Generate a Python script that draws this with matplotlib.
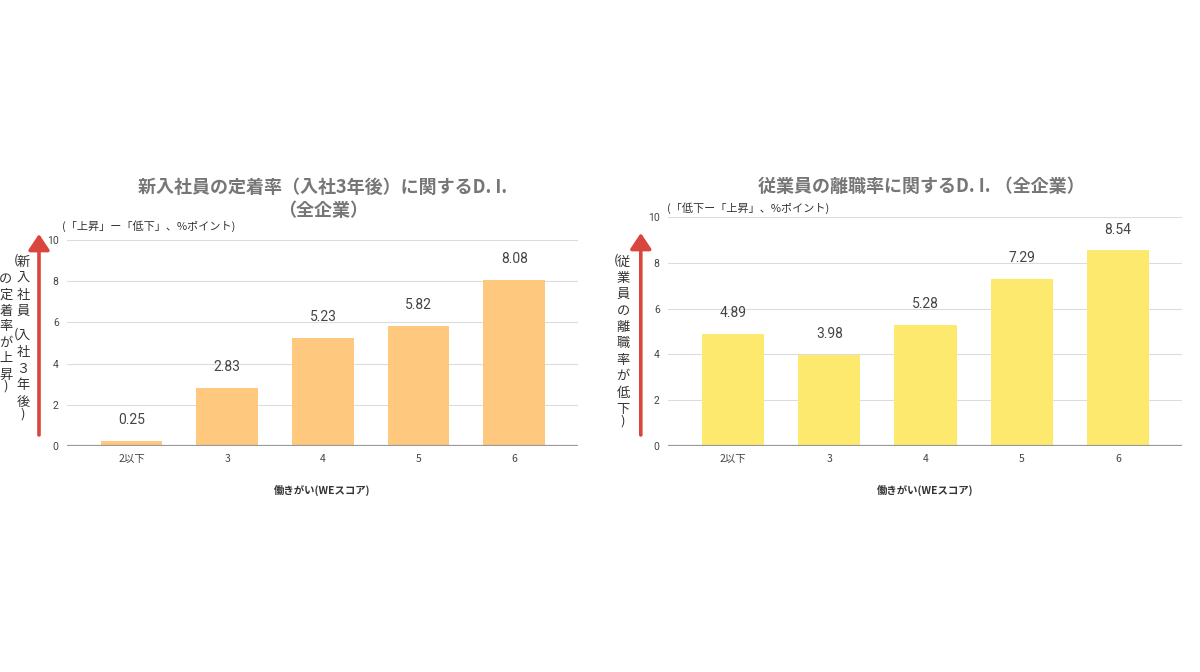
import matplotlib
matplotlib.use("Agg")
import matplotlib.pyplot as plt

plt.rcParams['font.family'] = ['Noto Sans CJK JP', 'DejaVu Sans']

# data
categories = ["2以下", "3", "4", "5", "6"]
teichaku_di = [0.25, 2.83, 5.23, 5.82, 8.08]   # 新入社員の定着率
rishoku_di = [4.89, 3.98, 5.28, 7.29, 8.54]    # 従業員の離職率

left_title = "新入社員の定着率（入社3年後）に関するD. I.\n（全企業）"
right_title = "従業員の離職率に関するD. I. （全企業）"
left_unit = "(「上昇」ー「低下」、%ポイント)"
right_unit = "(「低下ー「上昇」、%ポイント)"
xlabel = "働きがい(WEスコア)"
left_vlabel = [["(新", "入", "社", "員", "(入", "社", "３", "年", "後", ")"],
               ["の", "定", "着", "率", "が", "上", "昇", ")"]]
right_vlabel = [["(従", "業", "員", "の", "離", "職", "率", "が", "低", "下", ")"]]

TITLE_C = "#767676"
TEXT_C = "#444444"
ARROW_C = "#d9463e"
W, H = 1200, 672


def draw_panel(ax, values, color):
    x = range(len(categories))
    bars = ax.bar(x, values, width=0.645, color=color, zorder=2)
    for b, v in zip(bars, values):
        ax.annotate(f"{v:.2f}", (b.get_x() + b.get_width() / 2, v),
                    xytext=(0, 15), textcoords="offset points",
                    ha="center", va="center", fontsize=10,
                    family=["Roboto", "DejaVu Sans"], color=TEXT_C)
    ax.set_xlim(-0.675, 4.665)
    ax.set_ylim(0, 10)
    ax.set_yticks([0, 2, 4, 6, 8, 10])
    ax.set_xticks(list(x))
    ax.set_xticklabels(categories)
    ax.tick_params(length=0, labelsize=7.5, labelcolor=TEXT_C, pad=6)
    for t in ax.get_yticklabels():
        t.set_family(["Roboto", "DejaVu Sans"])
    ax.grid(axis="y", color="#dcdcdc", lw=0.8, zorder=0)
    for s in ax.spines.values():
        s.set_visible(False)
    ax.axhline(0, color="#9a9a9a", lw=1.6, zorder=3)
    ax.set_xlabel(xlabel, fontsize=7.5, color="#333333",
                  fontweight="bold", labelpad=15)


def vertical_text(fig, x_px, y_px, chars, pitch=16.5):
    # stack characters top to bottom, pixel positions from the top-left
    y = y_px
    for i, c in enumerate(chars):
        if c.startswith("(") and i > 0:
            y += pitch * 0.5
        if c == ")":
            y -= pitch * 0.3
        kw = dict(va="center", fontsize=9.5, color="#333333")
        if c.startswith("("):
            fig.text((x_px - 7) / W, 1 - (y - 2) / H, "(", ha="center", **kw)
            c = c[1:]
        fig.text(x_px / W, 1 - y / H, c, ha="center", **kw)
        y += pitch


fig = plt.figure(figsize=(12, 6.72), dpi=100)

ax1 = fig.add_axes([0.0558, 0.3363, 0.4258, 0.3066])
draw_panel(ax1, teichaku_di, "#ffc87f")
ax2 = fig.add_axes([0.5567, 0.3363, 0.4283, 0.3408])
draw_panel(ax2, rishoku_di, "#fce96e")

fig.text(0.269, 0.704, left_title, ha="center", va="center", fontsize=13,
         fontweight="bold", color=TITLE_C, linespacing=1.3)
fig.text(0.768, 0.723, right_title, ha="center", va="center", fontsize=13,
         fontweight="bold", color=TITLE_C)
fig.text(0.052, 0.663, left_unit, ha="left", va="center", fontsize=8,
         color="#333333")
fig.text(0.556, 0.690, right_unit, ha="left", va="center", fontsize=8,
         color="#333333")

# red arrows beside the y axes
for xa, y0, y1 in [(0.0325, 0.3527, 0.6518), (0.534, 0.3527, 0.6533)]:
    fig.add_artist(matplotlib.patches.FancyArrowPatch(
        (xa, y0), (xa, y1), transform=fig.transFigure,
        arrowstyle="-|>,head_length=6,head_width=4", color=ARROW_C,
        lw=2.6, mutation_scale=1.6, shrinkA=0, shrinkB=0))

vertical_text(fig, 23, 262, left_vlabel[0])
vertical_text(fig, 6, 279, left_vlabel[1], pitch=16)
vertical_text(fig, 623, 262, right_vlabel[0], pitch=16.4)

fig.savefig("out.png", dpi=100, facecolor="white")
